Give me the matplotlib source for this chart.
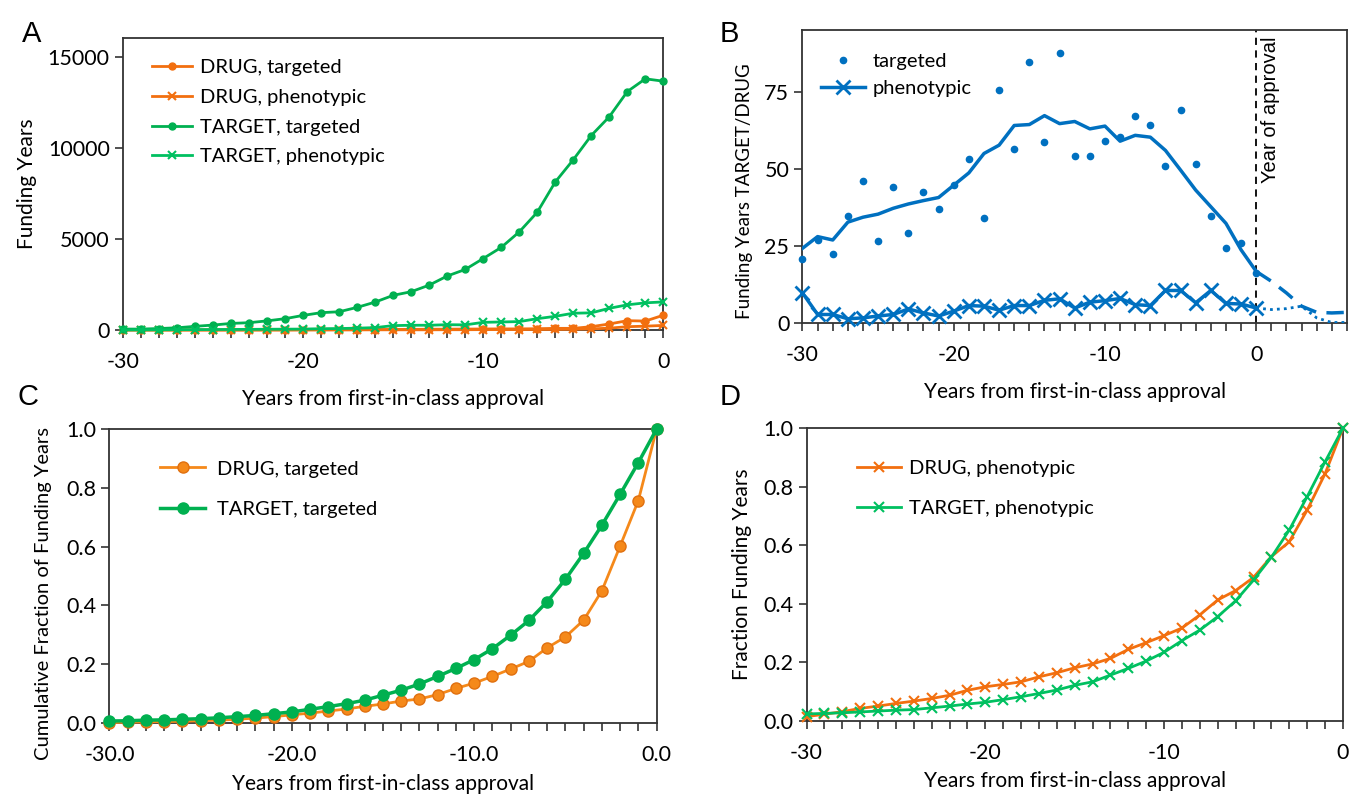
import matplotlib
matplotlib.use("Agg", force=True)
import matplotlib.pyplot as plt
import numpy as np
from matplotlib.ticker import MultipleLocator, FormatStrFormatter

plt.rcParams['font.family'] = ['Lato', 'DejaVu Sans']
plt.rcParams['axes.unicode_minus'] = False

# ---- data ----
years = list(range(-30, 1))

# Panel A: funding years
a_target_targeted = [50, 50, 80, 120, 200, 270, 360, 400, 500, 620, 800, 950, 1000, 1240, 1530,
                     1900, 2100, 2460, 2960, 3320, 3920, 4530, 5380, 6460, 8120, 9340, 10670,
                     11700, 13080, 13780, 13650]
a_target_pheno = [0, 5, 10, 15, 20, 25, 30, 35, 40, 45, 50, 70, 80, 100, 130,
                  240, 260, 260, 290, 280, 420, 440, 460, 620, 750, 920, 940,
                  1190, 1380, 1490, 1540]
a_drug_targeted = [0, 0, 0, 0, 0, 0, 0, 0, 5, 5, 10, 10, 15, 20, 25,
                   30, 35, 40, 45, 50, 55, 60, 60, 70, 90, 90, 180,
                   330, 510, 490, 810]
a_drug_pheno = [0, 0, 0, 0, 0, 0, 0, 0, 0, 0, 5, 5, 5, 5, 10,
                10, 10, 10, 15, 15, 20, 20, 25, 30, 30, 40, 60,
                100, 180, 210, 250]

# Panel B: ratio TARGET/DRUG
b_targeted_pts = [20.7, 27.0, 22.3, 34.8, 46.0, 26.7, 44.2, 29.3, 42.6, 37.0, 44.7, 53.1, 34.2,
                  75.6, 56.3, 84.6, 58.7, 87.8, 54.1, 54.1, 59.1, 60.3, 67.3, 64.3, 50.9, 69.0,
                  51.7, 34.7, 24.2, 25.9, 16.2]
b_targeted_smooth = [24.2, 28.0, 26.9, 32.7, 34.3, 35.3, 37.2, 38.6, 39.7, 40.7, 44.7, 48.7, 55.0,
                     57.7, 64.1, 64.4, 67.3, 64.7, 65.4, 63.0, 63.9, 59.0, 60.9, 60.3, 56.0, 49.6,
                     43.1, 37.7, 32.3, 23.7, 16.7]
b_pheno = [9.7, 2.7, 2.7, 1.3, 1.6, 2.2, 2.7, 4.5, 3.2, 2.2, 3.8, 5.6, 5.4, 4.1, 5.6, 5.6,
           7.3, 7.8, 4.8, 6.7, 7.2, 7.9, 5.9, 5.6, 10.5, 10.5, 6.5, 10.5, 6.3, 6.1, 4.8]
after_years = [0, 1, 2, 3, 4, 5, 6]
b_targeted_after = [16.7, 13.5, 9.7, 5.4, 3.4, 3.2, 3.4]
b_pheno_after = [4.8, 4.3, 4.6, 5.4, 1.6, 0.1, 0.1]

# Panel C: cumulative fraction, targeted
c_target = [0.007, 0.008, 0.010, 0.011, 0.013, 0.015, 0.018, 0.022, 0.026, 0.032, 0.038,
            0.047, 0.056, 0.066, 0.078, 0.095, 0.112, 0.133, 0.159, 0.186, 0.216, 0.253,
            0.299, 0.349, 0.413, 0.489, 0.577, 0.673, 0.778, 0.886, 1.0]
c_drug = [0.002, 0.003, 0.004, 0.005, 0.006, 0.008, 0.010, 0.013, 0.017, 0.022, 0.028,
          0.034, 0.041, 0.048, 0.057, 0.065, 0.075, 0.082, 0.097, 0.118, 0.136, 0.159,
          0.184, 0.210, 0.256, 0.293, 0.350, 0.450, 0.602, 0.757, 1.0]

# Panel D: fraction, phenotypic
d_drug = [0.014, 0.022, 0.031, 0.042, 0.050, 0.059, 0.067, 0.076, 0.087, 0.104, 0.116,
          0.124, 0.133, 0.150, 0.164, 0.181, 0.194, 0.213, 0.244, 0.267, 0.291, 0.317,
          0.362, 0.413, 0.445, 0.490, 0.561, 0.612, 0.720, 0.844, 1.0]
d_target = [0.023, 0.025, 0.027, 0.030, 0.033, 0.036, 0.038, 0.044, 0.050, 0.057, 0.063,
            0.072, 0.082, 0.093, 0.105, 0.121, 0.133, 0.156, 0.179, 0.204, 0.234, 0.274,
            0.310, 0.356, 0.410, 0.481, 0.559, 0.652, 0.766, 0.885, 1.0]

ORANGE = '#F26F0F'
ORANGE_C = '#F5891A'
GREEN = '#00B050'
GREEN2 = '#00C060'
BLUE = '#0070C0'
TICK_FS = 15.5
LABEL_FS = 15
LEG_FS = 14.5


def style_axes(ax, xmax=0, xpad=14):
    for s in ax.spines.values():
        s.set_color('#333333')
        s.set_linewidth(1.3)
    ax.xaxis.set_major_locator(MultipleLocator(10))
    ax.xaxis.set_minor_locator(MultipleLocator(1))
    ax.tick_params(axis='x', which='both', direction='out', length=6, width=1.2,
                   colors='#333333', labelcolor='black', labelsize=TICK_FS, pad=10)
    ax.tick_params(axis='y', which='both', direction='out', length=6, width=1.2,
                   colors='#333333', labelcolor='black', labelsize=TICK_FS)
    ax.set_xlim(-30, xmax)
    ax.set_xlabel('Years from first-in-class approval', fontsize=LABEL_FS, labelpad=xpad)


fig = plt.figure(figsize=(13.51, 7.99), dpi=100)

# ---------- A ----------
axA = fig.add_axes([0.091, 0.587, 0.400, 0.365])
axA.plot(years, a_drug_targeted, color=ORANGE, marker='o', ms=5, lw=2, label='DRUG, targeted', clip_on=False, zorder=3)
axA.plot(years, a_drug_pheno, color=ORANGE, marker='x', ms=6, mew=1.5, lw=2, label='DRUG, phenotypic', clip_on=False, zorder=3)
axA.plot(years, a_target_targeted, color=GREEN, marker='o', ms=5, lw=2, label='TARGET, targeted', clip_on=False, zorder=3)
axA.plot(years, a_target_pheno, color=GREEN2, marker='x', ms=6, mew=1.5, lw=2, label='TARGET, phenotypic', clip_on=False, zorder=3)
style_axes(axA, xpad=12)
axA.set_ylim(0, 16000)
axA.set_yticks([0, 5000, 10000, 15000])
axA.set_ylabel('Funding Years', fontsize=LABEL_FS, labelpad=8)
axA.legend(loc='upper left', bbox_to_anchor=(0.02, 0.99), frameon=False, fontsize=LEG_FS,
           handlelength=2.0, handletextpad=0.4, labelspacing=0.62)
fig.text(0.016, 0.958, 'A', fontsize=21, family='Liberation Sans', va='center')

# ---------- B ----------
axB = fig.add_axes([0.594, 0.596, 0.403, 0.366])
axB.plot(years, b_targeted_pts, linestyle='none', marker='o', ms=4.5, color=BLUE, label='targeted', clip_on=False, zorder=3)
axB.plot(years, b_pheno, color=BLUE, marker='x', ms=10, mew=2, lw=2.5, label='phenotypic', clip_on=False, zorder=3)
axB.plot(years, b_targeted_smooth, color=BLUE, lw=2.5, zorder=3)
axB.plot(after_years, b_targeted_after, color=BLUE, lw=2.5, ls=(0, (5, 3)), zorder=3)
axB.plot(after_years, b_pheno_after, color=BLUE, lw=2, ls=(0, (1, 1.5)), zorder=3)
axB.axvline(0, color='black', lw=1.3, ls=(0, (4, 3)), zorder=2)
axB.text(0.3, 93, 'Year of approval', rotation=90, va='top', ha='left', fontsize=14.5,
         family='Liberation Sans')
style_axes(axB, xmax=6, xpad=12)
axB.set_xticks([-30, -20, -10, 0])
axB.set_ylim(0, 95)
axB.set_yticks([0, 25, 50, 75])
axB.set_ylabel('Funding Years TARGET/DRUG', fontsize=13.5)
axB.yaxis.set_label_coords(-0.09, 0.45)
axB.legend(loc='upper left', bbox_to_anchor=(0.0, 0.985), frameon=False, fontsize=LEG_FS,
           handlelength=2.2, handletextpad=0.4, labelspacing=0.5)
fig.text(0.533, 0.958, 'B', fontsize=21, family='Liberation Sans', va='center')

# ---------- C ----------
axC = fig.add_axes([0.081, 0.095, 0.405, 0.368])
axC.plot(years, c_drug, color=ORANGE_C, marker='o', ms=8, mfc=ORANGE_C, mec='#E07010', lw=2, label='DRUG, targeted', clip_on=False, zorder=3)
axC.plot(years, c_target, color=GREEN, marker='o', ms=8, lw=2.5, label='TARGET, targeted', clip_on=False, zorder=3)
style_axes(axC, xpad=6)
axC.set_ylim(0, 1)
axC.set_yticks(np.arange(0, 1.01, 0.2))
axC.yaxis.set_major_formatter(FormatStrFormatter('%.1f'))
axC.xaxis.set_major_formatter(FormatStrFormatter('%.1f'))
axC.set_ylabel('Cumulative Fraction of Funding Years', fontsize=14.5)
axC.yaxis.set_label_coords(-0.105, 0.44)
axC.legend(loc='upper left', bbox_to_anchor=(0.06, 0.955), frameon=False, fontsize=LEG_FS,
           handlelength=2.2, handletextpad=0.6, labelspacing=1.15)
fig.text(0.013, 0.503, 'C', fontsize=21, family='Liberation Sans', va='center')

# ---------- D ----------
axD = fig.add_axes([0.597, 0.098, 0.397, 0.366])
axD.plot(years, d_drug, color=ORANGE, marker='x', ms=7, mew=1.5, lw=2, label='DRUG, phenotypic', clip_on=False, zorder=3)
axD.plot(years, d_target, color=GREEN2, marker='x', ms=7, mew=1.5, lw=2, label='TARGET, phenotypic', clip_on=False, zorder=3)
style_axes(axD, xpad=6)
axD.set_ylim(0, 1)
axD.set_yticks(np.arange(0, 1.01, 0.2))
axD.yaxis.set_major_formatter(FormatStrFormatter('%.1f'))
axD.set_ylabel('Fraction Funding Years', fontsize=LABEL_FS, labelpad=8)
axD.legend(loc='upper left', bbox_to_anchor=(0.06, 0.955), frameon=False, fontsize=LEG_FS,
           handlelength=2.2, handletextpad=0.4, labelspacing=1.15)
fig.text(0.533, 0.503, 'D', fontsize=21, family='Liberation Sans', va='center')

fig.savefig('out.png', dpi=100)
plt.close(fig)
